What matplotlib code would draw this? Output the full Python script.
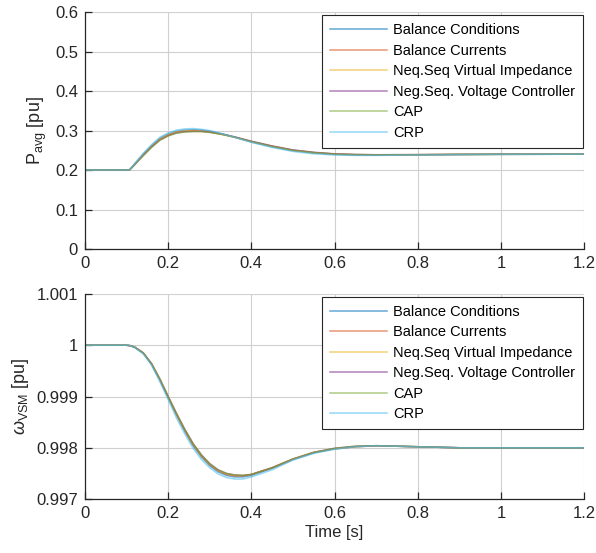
import matplotlib
matplotlib.use("Agg")
import matplotlib.pyplot as plt
from matplotlib.ticker import FuncFormatter

plt.rcParams["font.family"] = ["Liberation Sans", "DejaVu Sans"]
plt.rcParams["mathtext.fontset"] = "custom"
plt.rcParams["mathtext.rm"] = "Liberation Sans"
plt.rcParams["mathtext.it"] = "Liberation Sans:italic"
plt.rcParams["mathtext.bf"] = "Liberation Sans:bold"

LABELS = ["Balance Conditions", "Balance Currents", "Neq.Seq Virtual Impedance",
          "Neg.Seq. Voltage Controller", "CAP", "CRP"]
COLORS = ["#0072bd", "#d95319", "#edb120", "#7e2f8e", "#77ac30", "#4dbeee"]

# average power [pu]
t_p = [0, 0.1, 0.107, 0.12, 0.14, 0.16, 0.18, 0.2, 0.22, 0.24, 0.26, 0.28, 0.3,
       0.33, 0.36, 0.4, 0.45, 0.5, 0.55, 0.6, 0.65, 0.7, 0.8, 0.9, 1.0, 1.2]
p_bal_cond = [0.2, 0.2, 0.2, 0.216, 0.240, 0.262, 0.280, 0.291, 0.298, 0.301, 0.302, 0.301, 0.298,
              0.291, 0.283, 0.271, 0.259, 0.249, 0.243, 0.2395, 0.2382, 0.2380, 0.2386, 0.2393, 0.2397, 0.2400]
p_bal_curr = [0.2, 0.2, 0.2, 0.215, 0.238, 0.259, 0.277, 0.288, 0.295, 0.298, 0.299, 0.298, 0.296,
              0.290, 0.283, 0.272, 0.260, 0.250, 0.244, 0.2405, 0.2390, 0.2385, 0.2388, 0.2394, 0.2398, 0.2400]
p_neg_vi = [0.2, 0.2, 0.2, 0.215, 0.238, 0.260, 0.278, 0.289, 0.296, 0.299, 0.300, 0.299, 0.296,
            0.290, 0.283, 0.272, 0.260, 0.250, 0.244, 0.2402, 0.2388, 0.2384, 0.2387, 0.2394, 0.2398, 0.2400]
p_neg_vc = [0.2, 0.2, 0.2, 0.214, 0.237, 0.258, 0.276, 0.287, 0.294, 0.297, 0.298, 0.298, 0.296,
            0.291, 0.284, 0.273, 0.261, 0.251, 0.245, 0.2410, 0.2393, 0.2387, 0.2389, 0.2395, 0.2398, 0.2400]
p_cap = [0.2, 0.2, 0.2, 0.214, 0.236, 0.257, 0.275, 0.286, 0.293, 0.296, 0.297, 0.297, 0.295,
         0.290, 0.283, 0.272, 0.260, 0.250, 0.244, 0.2405, 0.2390, 0.2386, 0.2388, 0.2394, 0.2398, 0.2400]
p_crp = [0.2, 0.2, 0.2, 0.217, 0.242, 0.264, 0.283, 0.294, 0.301, 0.304, 0.305, 0.303, 0.300,
         0.292, 0.283, 0.270, 0.257, 0.247, 0.241, 0.2380, 0.2370, 0.2370, 0.2380, 0.2390, 0.2396, 0.2400]

# VSM frequency [pu]
t_w = [0, 0.1, 0.11, 0.12, 0.14, 0.16, 0.18, 0.2, 0.22, 0.24, 0.26, 0.28, 0.3, 0.32,
       0.34, 0.36, 0.38, 0.4, 0.45, 0.5, 0.55, 0.6, 0.65, 0.7, 0.8, 0.9, 1.0, 1.2]
w_bal_cond = [1.0, 1.0, 0.99999, 0.99996, 0.99985, 0.99963, 0.99932, 0.99898, 0.99864, 0.99832, 0.99804, 0.99782, 0.99765, 0.99753,
              0.99746, 0.99743, 0.99743, 0.99746, 0.99760, 0.99777, 0.99790, 0.99798, 0.99802, 0.99804, 0.99802, 0.99800, 0.99800, 0.99800]
w_bal_curr = [1.0, 1.0, 0.99999, 0.99996, 0.99985, 0.99964, 0.99933, 0.99899, 0.99865, 0.99834, 0.99806, 0.99784, 0.99767, 0.99755,
              0.99748, 0.99745, 0.99745, 0.99748, 0.99761, 0.99778, 0.99791, 0.99798, 0.99802, 0.99804, 0.99802, 0.99800, 0.99800, 0.99800]
w_neg_vi = [1.0, 1.0, 0.99999, 0.99996, 0.99985, 0.99964, 0.99934, 0.99900, 0.99866, 0.99835, 0.99807, 0.99785, 0.99768, 0.99756,
            0.99749, 0.99746, 0.99746, 0.99748, 0.99761, 0.99778, 0.99791, 0.99798, 0.99802, 0.99804, 0.99802, 0.99800, 0.99800, 0.99800]
w_neg_vc = [1.0, 1.0, 0.99999, 0.99996, 0.99985, 0.99964, 0.99934, 0.99900, 0.99867, 0.99836, 0.99808, 0.99786, 0.99769, 0.99757,
            0.99750, 0.99747, 0.99746, 0.99748, 0.99761, 0.99778, 0.99791, 0.99799, 0.99803, 0.99804, 0.99802, 0.99800, 0.99800, 0.99800]
w_cap = [1.0, 1.0, 0.99999, 0.99996, 0.99985, 0.99964, 0.99934, 0.99900, 0.99867, 0.99836, 0.99808, 0.99786, 0.99769, 0.99757,
         0.99750, 0.99747, 0.99746, 0.99748, 0.99761, 0.99778, 0.99791, 0.99799, 0.99803, 0.99804, 0.99802, 0.99800, 0.99800, 0.99800]
w_crp = [1.0, 1.0, 0.99999, 0.99995, 0.99983, 0.99961, 0.99929, 0.99894, 0.99858, 0.99827, 0.99799, 0.99777, 0.99761, 0.99749,
         0.99742, 0.99739, 0.99739, 0.99743, 0.99757, 0.99776, 0.99789, 0.99797, 0.99802, 0.99804, 0.99802, 0.99800, 0.99800, 0.99800]

p_series = [p_bal_cond, p_bal_curr, p_neg_vi, p_neg_vc, p_cap, p_crp]
w_series = [w_bal_cond, w_bal_curr, w_neg_vi, w_neg_vc, w_cap, w_crp]

x_ticks = [0, 0.2, 0.4, 0.6, 0.8, 1.0, 1.2]
p_ticks = [0, 0.1, 0.2, 0.3, 0.4, 0.5, 0.6]
w_ticks = [0.997, 0.998, 0.999, 1.0, 1.001]

DARK = "#262626"
fmt = FuncFormatter(lambda v, pos: f"{v:g}")

fig = plt.figure(figsize=(5.96, 5.53), dpi=100)
ax1 = fig.add_axes([0.1426, 0.5497, 0.8374, 0.4286])
ax2 = fig.add_axes([0.1426, 0.0976, 0.8374, 0.3708])


def style(ax, yticks, ylim):
    ax.set_xlim(0, 1.2)
    ax.set_ylim(*ylim)
    ax.set_xticks(x_ticks)
    ax.set_yticks(yticks)
    ax.xaxis.set_major_formatter(fmt)
    ax.yaxis.set_major_formatter(fmt)
    ax.grid(True, color="#d0d0d0", linewidth=0.8)
    ax.set_axisbelow(True)
    for s in ["top", "right"]:
        ax.spines[s].set_visible(False)
    for s in ["left", "bottom"]:
        ax.spines[s].set_color(DARK)
        ax.spines[s].set_linewidth(0.9)
    ax.tick_params(direction="in", length=5, width=0.9, colors=DARK,
                   labelsize=12, labelcolor=DARK, pad=5)


for vals, c, lab in zip(p_series, COLORS, LABELS):
    ax1.plot(t_p, vals, color=c, lw=1.1, alpha=0.6, label=lab)
for vals, c, lab in zip(w_series, COLORS, LABELS):
    ax2.plot(t_w, vals, color=c, lw=1.1, alpha=0.6, label=lab)

style(ax1, p_ticks, (0, 0.6))
style(ax2, w_ticks, (0.997, 1.001))

ax1.set_ylabel(r"P$_{\mathregular{avg}}$ [pu]", fontsize=13, color=DARK)
ax2.set_ylabel(r"$\omega_{\mathregular{VSM}}$ [pu]", fontsize=13, color=DARK)
ax2.set_xlabel("Time [s]", fontsize=12, color=DARK, labelpad=3)

for ax in (ax1, ax2):
    leg = ax.legend(loc="upper right", bbox_to_anchor=(0.998, 0.987), fontsize=10.5,
                    frameon=True, fancybox=False, framealpha=1, edgecolor=DARK,
                    handlelength=3.9, labelspacing=0.45, borderpad=0.55,
                    handletextpad=0.4, borderaxespad=0)
    leg.get_frame().set_linewidth(0.8)

fig.savefig("out.png", dpi=100)
